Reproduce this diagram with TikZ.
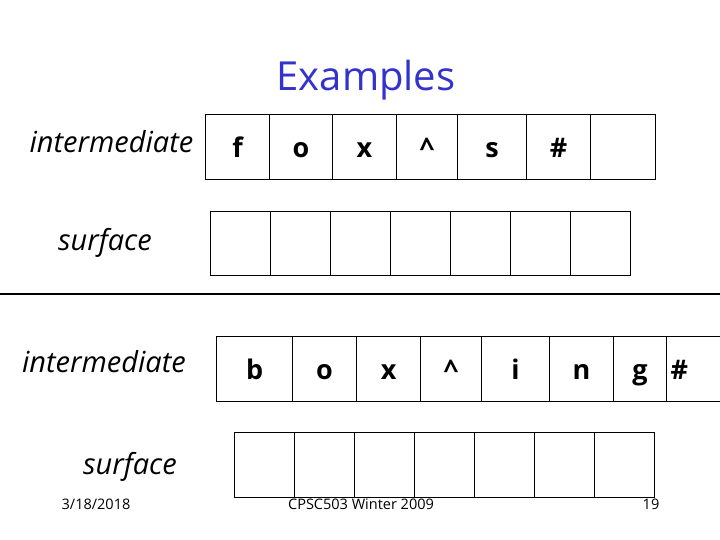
\documentclass[tikz,border=0pt]{standalone}
\usepackage{fontspec}
\setmainfont{Open Sans}
\definecolor{titleblue}{RGB}{51,51,204}
\begin{document}
\begin{tikzpicture}[x=1pt,y=-1pt,
  cell/.style={draw=black, line width=1.1pt, inner sep=0pt, minimum height=65pt,
    text height=20pt, text depth=0pt, anchor=north west,
    font=\fontsize{27}{27}\selectfont\bfseries},
  lbl/.style={anchor=base, inner sep=0pt, font=\fontsize{29}{29}\selectfont\itshape},
  foot/.style={anchor=base, inner sep=0pt, font=\fontsize{14.5}{14.5}\selectfont}]
\useasboundingbox (0,0) rectangle (720,540);
\clip (0,0) rectangle (720,540);
% title
\node[anchor=base, inner sep=0pt, text=titleblue, font=\fontsize{40}{40}\selectfont] (title) at (366,91) {Examples};
% labels
\node[lbl] (int1) at (111.5,153) {intermediate};
\node[lbl] (sur1) at (105,251) {surface};
\node[lbl] (int2) at (104,372) {intermediate};
\node[lbl] (sur2) at (130,474) {surface};
% row 1 intermediate
\node[cell, minimum width=64pt] (a1) at (205,114) {f};
\node[cell, minimum width=63pt] (a2) at (269,114) {o};
\node[cell, minimum width=64pt] (a3) at (332,114) {x};
\node[cell, minimum width=61pt] (a4) at (396,114) {\textasciicircum};
\node[cell, minimum width=69pt] (a5) at (457,114) {s};
\node[cell, minimum width=64pt] (a6) at (526,114) {\#};
\node[cell, minimum width=65pt] (a7) at (590,114) {};
% row 1 surface
\node[cell, minimum width=60pt, minimum height=64pt] (b1) at (210,211) {};
\node[cell, minimum width=60pt, minimum height=64pt] (b2) at (270,211) {};
\node[cell, minimum width=60pt, minimum height=64pt] (b3) at (330,211) {};
\node[cell, minimum width=60pt, minimum height=64pt] (b4) at (390,211) {};
\node[cell, minimum width=60pt, minimum height=64pt] (b5) at (450,211) {};
\node[cell, minimum width=60pt, minimum height=64pt] (b6) at (510,211) {};
\node[cell, minimum width=60pt, minimum height=64pt] (b7) at (570,211) {};
% separator
\coordinate (sepL) at (0,294);
\coordinate (sepR) at (720,294);
\draw[line width=2.2pt] (sepL) -- (sepR);
% row 2 intermediate
\node[cell, minimum width=76pt] (c1) at (216,336) {b};
\node[cell, minimum width=64pt] (c2) at (292,336) {o};
\node[cell, minimum width=64pt] (c3) at (356,336) {x};
\node[cell, minimum width=61pt] (c4) at (420,336) {\textasciicircum};
\node[cell, minimum width=68pt] (c5) at (481,336) {i};
\node[cell, minimum width=64pt] (c6) at (549,336) {n};
\node[cell, minimum width=53pt] (c7) at (613,336) {g};
\node[cell, minimum width=64pt, text width=56pt, align=left] (c8) at (666,336) {\#};
% row 2 surface
\node[cell, minimum width=60pt] (d1) at (234,432) {};
\node[cell, minimum width=60pt] (d2) at (294,432) {};
\node[cell, minimum width=60pt] (d3) at (354,432) {};
\node[cell, minimum width=60pt] (d4) at (414,432) {};
\node[cell, minimum width=60pt] (d5) at (474,432) {};
\node[cell, minimum width=60pt] (d6) at (534,432) {};
\node[cell, minimum width=60pt] (d7) at (594,432) {};
% footer
\node[foot] (date) at (96,509) {3/18/2018};
\node[foot] (course) at (361,509) {CPSC503 Winter 2009};
\node[foot] (page) at (651,509) {19};
\end{tikzpicture}
\end{document}
